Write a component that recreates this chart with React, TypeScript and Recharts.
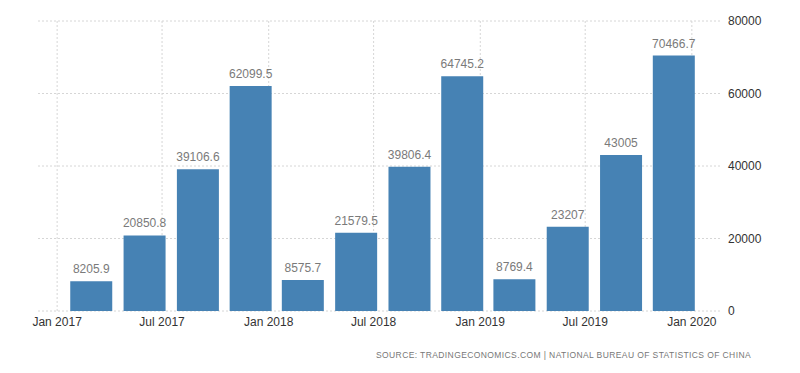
import React from 'react';
import { BarChart, Bar, XAxis, YAxis, CartesianGrid, LabelList } from 'recharts';

const quarters = ['2017-03', '2017-06', '2017-09', '2017-12', '2018-03', '2018-06', '2018-09', '2018-12', '2019-03', '2019-06', '2019-09', '2019-12'];
const values = [8205.9, 20850.8, 39106.6, 62099.5, 8575.7, 21579.5, 39806.4, 64745.2, 8769.4, 23207, 43005, 70466.7];
const xTickDates = ['2017-01', '2017-07', '2018-01', '2018-07', '2019-01', '2019-07', '2020-01'];
const xTickLabels = ['Jan 2017', 'Jul 2017', 'Jan 2018', 'Jul 2018', 'Jan 2019', 'Jul 2019', 'Jan 2020'];
const yTicks = [0, 20000, 40000, 60000, 80000];
const sourceText = 'SOURCE: TRADINGECONOMICS.COM | NATIONAL BUREAU OF STATISTICS OF CHINA';

const toDay = (s: string) => {
  const [y, m] = s.split('-').map(Number);
  return Date.UTC(y, m - 1, 1) / 86400000;
};

const data = quarters.map((q, i) => ({ t: toDay(q), value: values[i] }));
const xTicks = xTickDates.map(toDay);
const labelMap: Record<number, string> = {};
xTicks.forEach((t, i) => { labelMap[t] = xTickLabels[i]; });

const FONT = '"Liberation Sans", Arial, sans-serif';

const vGen = (props: any) => {
  const axis = props?.xAxis;
  const scale = axis?.scale;
  if (scale && typeof scale === 'function') {
    return xTicks.map((t) => scale(t));
  }
  if (scale && typeof scale.map === 'function') {
    return xTicks.map((t) => scale.map(t));
  }
  return [];
};

export default function App() {
  return (
    <div style={{ position: 'absolute', left: 0, top: 0, width: 800, height: 373, background: '#fff', fontFamily: FONT }}>
      <BarChart
        width={800}
        height={373}
        data={data}
        margin={{ top: 21, right: 0, left: 38, bottom: 32 }}
      >
        <CartesianGrid stroke="#d6d6d6" strokeDasharray="2 2" verticalCoordinatesGenerator={vGen} />
        <XAxis
          dataKey="t"
          type="number"
          scale="linear"
          domain={[xTicks[0] - 33, xTicks[6] + 52]}
          ticks={xTicks}
          tickFormatter={(v: number) => labelMap[v] ?? ''}
          axisLine={false}
          tickLine={false}
          tickMargin={0}
          height={30}
          tick={{ fill: '#333', fontSize: 12, fontFamily: FONT }}
          interval={0}
        />
        <YAxis
          orientation="right"
          domain={[0, 80000]}
          ticks={yTicks}
          axisLine={false}
          tickLine={false}
          tickSize={0}
          tickMargin={6}
          width={78}
          tick={{ fill: '#333', fontSize: 12, fontFamily: FONT, textAnchor: 'start' }}
        />
        <Bar dataKey="value" fill="#4682B4" barSize={42} isAnimationActive={false}>
          <LabelList dataKey="value" position="top" offset={8} fill="#7a7a7a" fontSize={12} fontFamily={FONT} />
        </Bar>
      </BarChart>
      <div
        style={{
          position: 'absolute',
          right: 49,
          top: 350,
          fontSize: 8.5,
          letterSpacing: 0.4,
          color: '#777',
          fontFamily: FONT,
          whiteSpace: 'nowrap',
        }}
      >
        {sourceText}
      </div>
    </div>
  );
}
